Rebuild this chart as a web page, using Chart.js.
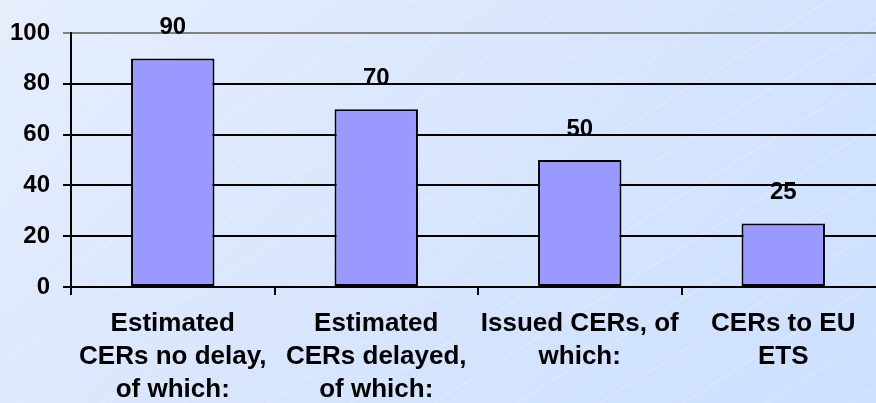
<!DOCTYPE html>
<html lang="en">
<head>
    <meta charset="UTF-8">
    <title>CERs</title>
    <style>
        html, body {
            margin: 0;
            padding: 0;
            overflow: hidden;
        }
        body {
            width: 876px;
            height: 403px;
            background:
                repeating-linear-gradient(148deg, rgba(255,255,255,0) 0px, rgba(255,255,255,0) 43px, rgba(255,255,255,0.25) 43px, rgba(255,255,255,0.25) 44px),
                linear-gradient(135deg, #e6eefc 0%, #d9e6fd 45%, #cce0ff 100%);
        }
        #wrap {
            position: relative;
            width: 886px;
            height: 406px;
        }
    </style>
</head>
<body>

    <div id="wrap"><canvas id="cers"></canvas></div>

    <script src="https://cdn.jsdelivr.net/npm/chart.js"></script>

    <script>
        // categories (already split into the lines shown under each bar)
        const categories = [
            ['Estimated', 'CERs no delay,', 'of which:'],
            ['Estimated', 'CERs delayed,', 'of which:'],
            ['Issued CERs, of', 'which:'],
            ['CERs to EU', 'ETS']
        ];
        const values = [90, 70, 50, 25];
        const yTicks = [0, 20, 40, 60, 80, 100];

        const FONT = "'Liberation Sans', Arial, Helvetica, sans-serif";

        // numbers above the bars
        const barValues = {
            id: 'barValues',
            afterDatasetsDraw(chart) {
                const c = chart.ctx;
                const meta = chart.getDatasetMeta(0);
                c.save();
                c.font = 'bold 24px ' + FONT;
                c.fillStyle = '#000';
                c.textAlign = 'center';
                c.textBaseline = 'bottom';
                meta.data.forEach((bar, i) => {
                    c.fillText(String(values[i]), bar.x, bar.y - 19);
                });
                c.restore();
            }
        };

        new Chart(document.getElementById('cers'), {
            type: 'bar',
            data: {
                labels: categories,
                datasets: [{
                    data: values,
                    backgroundColor: '#9999ff',
                    borderColor: '#000',
                    borderWidth: 2,
                    borderSkipped: false,
                    barPercentage: 0.41,
                    categoryPercentage: 1
                }]
            },
            options: {
                responsive: true,
                maintainAspectRatio: false,
                animation: false,
                layout: { padding: { left: 10, top: 33, right: 1, bottom: 0 } },
                plugins: {
                    legend: { display: false },
                    tooltip: { enabled: false }
                },
                scales: {
                    x: {
                        offset: true,
                        afterFit: (axis) => { axis.height = 119; },
                        border: { color: '#000', width: 2 },
                        grid: {
                            offset: true,
                            drawOnChartArea: false,
                            drawTicks: true,
                            tickLength: 8,
                            color: '#000',
                            lineWidth: 2
                        },
                        ticks: {
                            color: '#000',
                            autoSkip: false,
                            maxRotation: 0,
                            minRotation: 0,
                            padding: 12,
                            font: { family: FONT, size: 26, weight: 'bold', lineHeight: '33px' }
                        }
                    },
                    y: {
                        min: 0,
                        max: 100,
                        afterBuildTicks: (axis) => {
                            axis.ticks = yTicks.map(v => ({ value: v }));
                        },
                        afterFit: (axis) => { axis.width = 61; },
                        border: { color: '#000', width: 2 },
                        grid: {
                            drawTicks: true,
                            tickLength: 8,
                            lineWidth: 2,
                            color: (ctx) => (ctx.tick && ctx.tick.value === 100) ? '#808080' : '#000'
                        },
                        ticks: {
                            color: '#000',
                            padding: 13,
                            font: { family: FONT, size: 24, weight: 'bold' }
                        }
                    }
                }
            },
            plugins: [barValues]
        });
    </script>

</body>
</html>
